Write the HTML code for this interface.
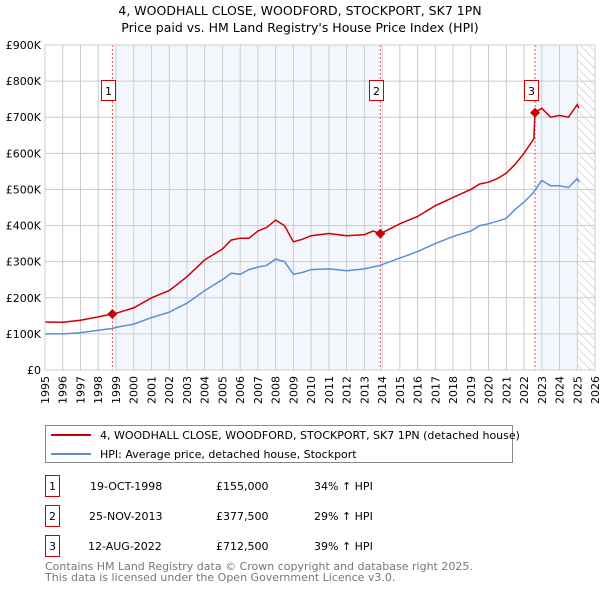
<!DOCTYPE html>
<html><head><meta charset="utf-8">
<style>
body{margin:0;background:#fff;font-family:"Liberation Sans","DejaVu Sans",sans-serif;}
svg text{font-family:"DejaVu Sans","Liberation Sans",sans-serif;}
</style></head>
<body>
<svg id="c" width="600" height="590" viewBox="0 0 600 590" xmlns="http://www.w3.org/2000/svg">
<defs>
<pattern id="hatch" width="6" height="6" patternUnits="userSpaceOnUse" patternTransform="rotate(-45)">
<line x1="0" y1="0" x2="0" y2="6" stroke="#bbb" stroke-width="1"/>
</pattern>
</defs>
<text x="300" y="15" text-anchor="middle" font-size="12.5">4, WOODHALL CLOSE, WOODFORD, STOCKPORT, SK7 1PN</text>
<text x="300" y="32" text-anchor="middle" font-size="12.5">Price paid vs. HM Land Registry's House Price Index (HPI)</text>
<g id="plot"></g>
<g>
<rect x="45.5" y="425.5" width="467" height="37" fill="#fff" stroke="#888"/>
<line x1="51" y1="435" x2="91" y2="435" stroke="#cc0000" stroke-width="2"/>
<text x="100" y="439" font-size="11">4, WOODHALL CLOSE, WOODFORD, STOCKPORT, SK7 1PN (detached house)</text>
<line x1="51" y1="454" x2="91" y2="454" stroke="#5b8fd4" stroke-width="2"/>
<text x="100" y="458" font-size="11">HPI: Average price, detached house, Stockport</text>
</g>
<g font-size="11">
<rect x="45.5" y="475.5" width="14" height="21" fill="#fff" stroke="#cc0000"/><text x="52.5" y="490" text-anchor="middle">1</text>
<text x="90" y="490">19-OCT-1998</text><text x="216" y="490">£155,000</text><text x="314" y="490">34% ↑ HPI</text>
<rect x="45.5" y="505.5" width="14" height="21" fill="#fff" stroke="#cc0000"/><text x="52.5" y="520" text-anchor="middle">2</text>
<text x="89" y="520">25-NOV-2013</text><text x="216" y="520">£377,500</text><text x="314" y="520">29% ↑ HPI</text>
<rect x="45.5" y="535.5" width="14" height="21" fill="#fff" stroke="#cc0000"/><text x="52.5" y="550" text-anchor="middle">3</text>
<text x="88" y="550">12-AUG-2022</text><text x="216" y="550">£712,500</text><text x="314" y="550">39% ↑ HPI</text>
</g>
<text x="45" y="570" font-size="11" fill="#777">Contains HM Land Registry data © Crown copyright and database right 2025.</text>
<text x="45" y="581" font-size="11" fill="#777">This data is licensed under the Open Government Licence v3.0.</text>
</svg>
<script>
const yearTicks=[1995,1996,1997,1998,1999,2000,2001,2002,2003,2004,2005,2006,2007,2008,2009,2010,2011,2012,2013,2014,2015,2016,2017,2018,2019,2020,2021,2022,2023,2024,2025,2026];
const priceTicks=[0,100000,200000,300000,400000,500000,600000,700000,800000,900000];
const priceLabels=["£0","£100K","£200K","£300K","£400K","£500K","£600K","£700K","£800K","£900K"];
const hpiT=[1995,1996,1997,1998,1998.8,1999,2000,2001,2002,2003,2004,2005,2005.5,2006,2006.5,2007,2007.5,2008,2008.5,2009,2009.5,2010,2011,2012,2013,2013.9,2014,2015,2016,2017,2018,2019,2019.5,2020,2020.5,2021,2021.5,2022,2022.5,2023,2023.5,2024,2024.5,2025,2025.1];
const hpiV=[100000,100000,103000,110000,115000,118000,127000,145000,160000,185000,220000,250000,268000,265000,278000,285000,290000,307000,300000,265000,270000,278000,280000,275000,280000,290000,292000,310000,328000,350000,370000,385000,400000,405000,412000,420000,445000,465000,490000,525000,510000,510000,505000,530000,520000];
const propT=[1995,1996,1997,1998,1998.8,1999,2000,2001,2002,2003,2004,2005,2005.5,2006,2006.5,2007,2007.5,2008,2008.5,2009,2009.5,2010,2011,2012,2013,2013.5,2013.9,2014,2015,2016,2017,2018,2019,2019.5,2020,2020.5,2021,2021.5,2022,2022.55,2022.62,2023,2023.5,2024,2024.5,2025,2025.1];
const propV=[133000,132000,138000,147000,155000,157000,172000,200000,220000,258000,305000,335000,360000,365000,365000,385000,395000,415000,400000,355000,362000,372000,378000,372000,375000,385000,377500,380000,405000,425000,455000,478000,500000,515000,520000,530000,545000,570000,600000,640000,712500,725000,700000,705000,700000,735000,725000];
const saleT=[1998.8,2013.9,2022.62];
const saleV=[155000,377500,712500];
const saleLabels=["1","2","3"];
const X0=45,X1=595,Y0=370,Y1=45;
const x=t=>X0+(t-1995)/(2026-1995)*(X1-X0);
const y=v=>Y0-v/900000*(Y0-Y1);
const NS="http://www.w3.org/2000/svg";
const g=document.getElementById('plot');
function mk(tag,attrs,parent){const e=document.createElementNS(NS,tag);for(const k in attrs)e.setAttribute(k,attrs[k]);(parent||g).appendChild(e);return e;}
let s=mk('rect',{x:x(1999),y:Y1,width:x(saleT[1])-x(1999),height:Y0-Y1,fill:'#eef3fc',opacity:0.7});


s=mk('rect',{x:x(saleT[2]),y:Y1,width:x(2025)-x(saleT[2]),height:Y0-Y1,fill:'#eef3fc',opacity:0.7});


s=mk('rect',{x:x(2025),y:Y1,width:X1-x(2025),height:Y0-Y1,fill:'url(#hatch)'});


yearTicks.forEach(t=>{const l=mk('line',{x1:x(t),x2:x(t),y1:Y1,y2:Y0,stroke:'#ccc','stroke-width':1});


const tx=mk('text',{x:0,y:0,'font-size':11,'text-anchor':'end',transform:`translate(${x(t)+4},${Y0+6}) rotate(-90)`});tx.textContent=t;

});
priceTicks.forEach((v,i)=>{const l=mk('line',{x1:X0,x2:X1,y1:y(v),y2:y(v),stroke:'#ccc','stroke-width':1});


const tx=mk('text',{x:X0-4,y:y(v)+4,'font-size':11,'text-anchor':'end'});tx.textContent=priceLabels[i];

});
saleT.forEach((t,i)=>{const l=mk('line',{x1:x(t),x2:x(t),y1:Y1,y2:Y0,stroke:'#e05555','stroke-width':1,'stroke-dasharray':'2,2'});


const r=mk('rect',{x:Math.round(x(t))-10.5,y:80.5,width:14,height:20,fill:'#fff',stroke:'#cc0000'});


const tx=mk('text',{x:Math.round(x(t))-3.5,y:95,'font-size':11,'text-anchor':'middle'});tx.textContent=saleLabels[i];

});
const path=(T,V)=>T.map((t,i)=>(i?'L':'M')+x(t).toFixed(1)+','+y(V[i]).toFixed(1)).join('');
let p=mk('path',{d:path(hpiT,hpiV),fill:'none',stroke:'#5b8fd4','stroke-width':1.5});


p=mk('path',{d:path(propT,propV),fill:'none',stroke:'#cc0000','stroke-width':1.5});


saleT.forEach((t,i)=>{const d=mk('path',{d:`M${x(t)},${y(saleV[i])-5}l5,5l-5,5l-5,-5z`,fill:'#cc0000'});

});
const b=mk('rect',{x:X0,y:Y1,width:X1-X0,height:Y0-Y1,fill:'none',stroke:'#ccc'});


</script>
</body></html>
